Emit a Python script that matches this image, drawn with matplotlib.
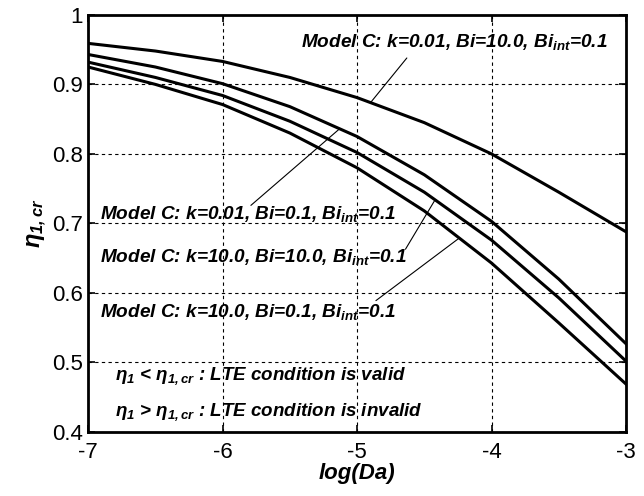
import numpy as np
import matplotlib
matplotlib.use("Agg")
import matplotlib.pyplot as plt

plt.rcParams['font.family'] = ['Liberation Sans', 'DejaVu Sans']
plt.rcParams['mathtext.fontset'] = 'custom'
plt.rcParams['mathtext.rm'] = 'Liberation Sans:bold:italic'
plt.rcParams['mathtext.it'] = 'Liberation Sans:bold:italic'
plt.rcParams['mathtext.bf'] = 'Liberation Sans:bold:italic'

# critical values vs log(Da), Model C cases
log_da = [-7.0, -6.5, -6.0, -5.5, -5.0, -4.5, -4.0, -3.5, -3.0]
eta_k001_bi10 = [0.959, 0.948, 0.933, 0.910, 0.881, 0.845, 0.800, 0.745, 0.688]
eta_k001_bi01 = [0.943, 0.925, 0.901, 0.868, 0.825, 0.770, 0.703, 0.620, 0.527]
eta_k10_bi10 = [0.932, 0.910, 0.884, 0.847, 0.802, 0.745, 0.676, 0.593, 0.502]
eta_k10_bi01 = [0.925, 0.900, 0.871, 0.830, 0.780, 0.718, 0.643, 0.557, 0.469]

curves = [eta_k001_bi10, eta_k001_bi01, eta_k10_bi10, eta_k10_bi01]
labels = [
    r"Model C: k=0.01, Bi=10.0, Bi$_{int}$=0.1",
    r"Model C: k=0.01, Bi=0.1, Bi$_{int}$=0.1",
    r"Model C: k=10.0, Bi=10.0, Bi$_{int}$=0.1",
    r"Model C: k=10.0, Bi=0.1, Bi$_{int}$=0.1",
]
# (text x, text y, leader start x, leader start y, leader end x on curve)
label_spots = [
    (-5.42, 0.961, -4.63, 0.938, -4.90),
    (-6.91, 0.714, -5.79, 0.726, -5.13),
    (-6.91, 0.652, -4.64, 0.663, -4.42),
    (-6.91, 0.572, -4.86, 0.589, -4.24),
]

fig = plt.figure(figsize=(6.44, 4.96), dpi=100)
ax = fig.add_axes([0.137, 0.129, 0.835, 0.841])

for eta in curves:
    ax.plot(log_da, eta, color='black', lw=2.2)

for eta, text, (tx, ty, sx, sy, ex) in zip(curves, labels, label_spots):
    ax.text(tx, ty, text, fontsize=13.7, fontweight='bold', fontstyle='italic',
            ha='left', va='center')
    ey = np.interp(ex, log_da, eta)
    ax.annotate('', xy=(ex, ey), xytext=(sx, sy),
                arrowprops=dict(arrowstyle='-', color='black', lw=0.8,
                                shrinkA=0, shrinkB=0))

ax.text(-6.80, 0.481, r"$\eta_1$ < $\eta_{1,cr}$ : LTE condition is valid",
        fontsize=13.5, fontweight='bold', fontstyle='italic', va='center')
ax.text(-6.80, 0.428, r"$\eta_1$ > $\eta_{1,cr}$ : LTE condition is invalid",
        fontsize=13.5, fontweight='bold', fontstyle='italic', va='center')

ax.set_xlim(-7, -3)
ax.set_ylim(0.4, 1.0)
ax.set_xticks([-7, -6, -5, -4, -3])
ax.set_yticks([0.4, 0.5, 0.6, 0.7, 0.8, 0.9, 1.0])
ax.set_xticklabels(['-7', '-6', '-5', '-4', '-3'])
ax.set_yticklabels(['0.4', '0.5', '0.6', '0.7', '0.8', '0.9', '1'])
ax.tick_params(direction='in', length=5, width=1.2, labelsize=16,
               top=True, right=True)
ax.tick_params(axis='x', pad=7)
ax.tick_params(axis='y', pad=4)
ax.grid(True, color='black', linestyle=(0, (3, 3)), lw=0.8)
for sp in ax.spines.values():
    sp.set_linewidth(2)

ax.set_xlabel('log(Da)', fontsize=16, fontweight='bold', fontstyle='italic',
              labelpad=0)
ax.set_ylabel(r"$\eta_{1,cr}$", fontsize=17, labelpad=2)

fig.savefig('out.png', dpi=100)
